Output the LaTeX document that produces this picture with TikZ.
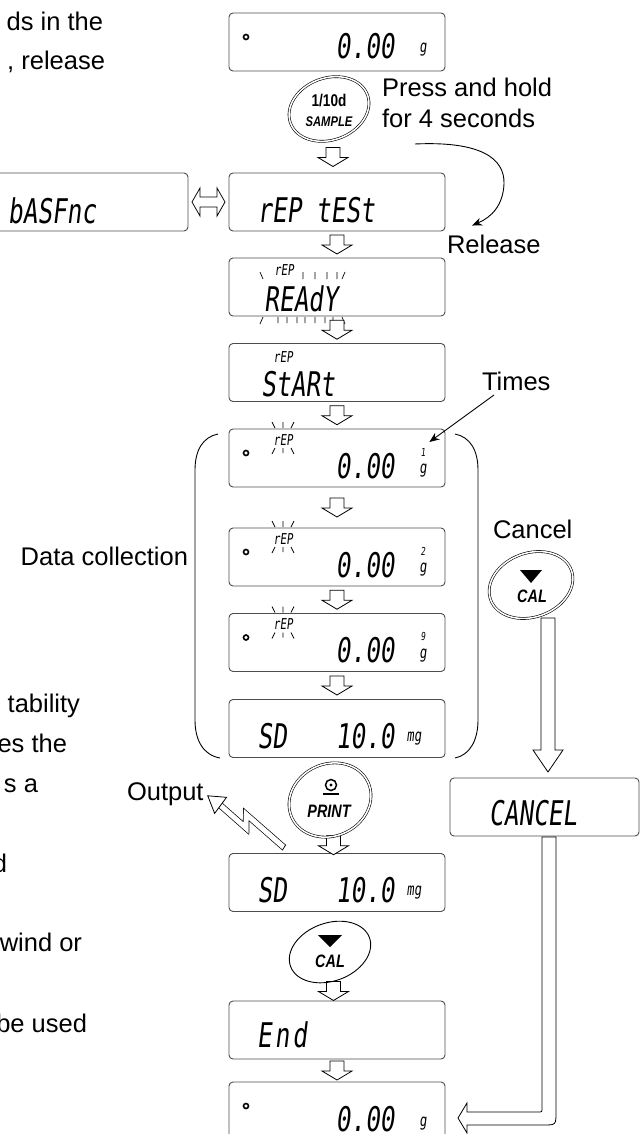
\documentclass[tikz,border=0pt]{standalone}
\usepackage{fontspec}
\setmainfont{Liberation Sans}
\newfontfamily\lcdfont[FakeSlant=0.12,FakeStretch=0.72]{DejaVu Sans Mono}
\newfontfamily\keyfont[FakeStretch=0.8]{Liberation Sans}
\usetikzlibrary{calc,arrows.meta,shapes.geometric}
\tikzset{
  hol/.style={draw,fill=white,line width=0.8pt,line join=miter},
  harrow/.pic={\path[hol] (-7,-9.5) -- (7,-9.5) -- (7,0.5) -- (15,0.5) -- (0,9.5) -- (-15,0.5) -- (-7,0.5) -- cycle;},
  rayset/.pic={\draw[line width=0.7pt] (-11,-18) -- (-8,-12) (0,-18) -- (0,-12) (11,-18) -- (8,-12)
      (-8,8) -- (-11,14) (0,8) -- (0,13) (8,8) -- (11,14);},
  readyrays/.pic={\draw[line width=0.7pt] (-77,-15) -- (-74,-8) (-34,-15) -- (-34,-8) (-22,-15) -- (-22,-8)
      (-10,-15) -- (-10,-8) (0,-15) -- (0,-8) (8,-15) -- (5,-8)
      (-74,30) -- (-77,37) (-59,30) -- (-59,36) (-50,30) -- (-50,36) (-40,30) -- (-40,36) (-32,30) -- (-32,36)
      (-22,30) -- (-22,36) (-12,30) -- (-12,36) (-4,30) -- (-4,36) (5,30) -- (8,37);}
}
\begin{document}
\begin{tikzpicture}[x=1pt,y=-1pt,
  every node/.style={inner sep=0pt,outer sep=0pt},
  lcd/.style={draw=black!70,line width=0.9pt,rounded corners=4pt,minimum width=216pt,minimum height=58pt},
  lcdbig/.style={font=\lcdfont\fontsize{34}{34}\selectfont},
  lcdsmall/.style={font=\lcdfont\fontsize{15}{15}\selectfont},
  lcdunit/.style={font=\lcdfont\fontsize{17}{17}\selectfont},
  lcdcnt/.style={font=\lcdfont\fontsize{11}{11}\selectfont},
  lbl/.style={font=\fontsize{25.5}{30}\selectfont},
  keyring/.style={draw,line width=0.6pt,double,double distance=1.5pt},
  keyplain/.style={draw,line width=0.9pt},
  keytxt/.style={font=\keyfont\bfseries\itshape\fontsize{18}{18}\selectfont},
  keybox/.style={ellipse},
  stand/.style={circle,draw,line width=1.6pt,minimum size=5pt},
  conn/.style={line width=0.9pt,-{Stealth[length=10pt,width=8pt]}}
]
\useasboundingbox (0,0) rectangle (641,1134);

% ---------- left text fragments ----------
\node[lbl,anchor=base east] (t1) at (103,31) {ds in the};
\node[lbl,anchor=base east] (t2) at (105,70) {, release};
\node[lbl,anchor=base east] (t3) at (80,712) {tability};
\node[lbl,anchor=base east] (t4) at (67,752) {es the};
\node[lbl,anchor=base east] (t5) at (38,792) {s a};
\node[lbl,anchor=base east] (t6) at (7,872) {d};
\node[lbl,anchor=base east] (t7) at (82,951) {wind or};
\node[lbl,anchor=base east] (t8) at (87,1032) {be used};

% ---------- labels ----------
\node[lbl,anchor=base west] (press) at (382,97) {Press and hold};
\node[lbl,anchor=base west] (four) at (382,128) {for 4 seconds};
\node[lbl,anchor=base west] (release) at (447,253) {Release};
\node[lbl,anchor=base west] (times) at (482,390) {Times};
\node[lbl,anchor=base west] (cancel) at (493,538) {Cancel};
\node[lbl,anchor=base east] (datac) at (188,565) {Data collection};
\node[lbl,anchor=base west] (output) at (127,800) {Output};

% ---------- display boxes ----------
\node[lcd] (d1) at (337,42) {};
\node[lcd,minimum width=220pt] (dbas) at (78,202) {};
\node[lcd] (drep) at (337,202) {};
\node[lcd] (dready) at (337,287) {};
\node[lcd] (dstart) at (337,372.5) {};
\node[lcd] (dr1) at (337,458) {};
\node[lcd] (dr2) at (337,557) {};
\node[lcd] (dr3) at (337,642.5) {};
\node[lcd] (dsd) at (337,728.5) {};
\node[lcd,minimum width=189pt] (dcan) at (544.5,807) {};
\node[lcd] (dsd2) at (337,882.5) {};
\node[lcd] (dend) at (337,1030) {};
\node[lcd] (dfin) at (337,1111) {};

% box contents
\node[stand] (o1) at (246,37) {};
\node[lcdbig] (v1) at (365,46) {0.00};
\node[lcdunit] (g1) at (423,50) {g};

\node[lcdbig] (tbas) at (52,211) {bASFnc};
\node[lcdbig] (trep) at (316,210) {rEP tESt};

\node[lcdsmall] (rp0) at (284,270) {rEP};
\node[lcdbig] (tready) at (301,299) {REAdY};
\pic at (dready.center) {readyrays};

\node[lcdsmall] (rps) at (283,357) {rEP};
\node[lcdbig] (tstart) at (298,384) {StARt};

\node[stand] (o2) at (246,453) {};
\node[lcdsmall] (rp1) at (283,440) {rEP};
\pic at (rp1.center) {rayset};
\node[lcdbig] (v2) at (365,466) {0.00};
\node[lcdunit] (g2) at (423,471) {g};
\node[lcdcnt] (c1) at (423,452) {1};

\node[stand] (o3) at (246,552) {};
\node[lcdsmall] (rp2) at (283,539) {rEP};
\pic at (rp2.center) {rayset};
\node[lcdbig] (v3) at (365,565) {0.00};
\node[lcdunit] (g3) at (423,570) {g};
\node[lcdcnt] (c2) at (423,551) {2};

\node[stand] (o4) at (246,637.5) {};
\node[lcdsmall] (rp3) at (283,624.5) {rEP};
\pic at (rp3.center) {rayset};
\node[lcdbig] (v4) at (365,650.5) {0.00};
\node[lcdunit] (g4) at (423,655.5) {g};
\node[lcdcnt] (c3) at (423,636.5) {9};

\node[lcdbig] (sd1) at (272,736) {SD};
\node[lcdbig] (v5) at (365,736) {10.0};
\node[lcdunit] (mg1) at (414,739) {mg};

\node[lcdbig] (tcan) at (533,813) {CANCEL};

\node[lcdbig] (sd2) at (272,890) {SD};
\node[lcdbig] (v6) at (365,890) {10.0};
\node[lcdunit] (mg2) at (414,893) {mg};

\node[lcdbig] (tend) at (282,1035) {E\kern3pt n\kern3pt d};

\node[stand] (o5) at (246,1106) {};
\node[lcdbig] (v7) at (365,1119) {0.00};
\node[lcdunit] (g5) at (423,1124) {g};

% ---------- keys ----------
\node[keybox,minimum width=84pt,minimum height=64pt] (bsam) at (329,109) {};
\draw[keyring,rotate around={20:(bsam.center)}] (bsam.center) ellipse [x radius=41pt,y radius=31pt];
\node[font=\keyfont\bfseries\fontsize{17}{17}\selectfont] (bsam1) at (329,101) {1/10d};
\node[font=\keyfont\bfseries\itshape\fontsize{14}{14}\selectfont] (bsam2) at (329,122) {SAMPLE};

\node[keybox,minimum width=88pt,minimum height=66pt] (bcan) at (531,585) {};
\node[keybox,minimum width=86pt,minimum height=74pt] (bpri) at (330,800) {};
\node[keybox,minimum width=84pt,minimum height=58pt] (bcal) at (330,952) {};

% ---------- hollow arrows ----------
\pic at ($(bsam.south)!.5!(drep.north)$) {harrow};
\pic at ($(drep.south)!.5!(dready.north)$) {harrow};
\pic at ($(dready.south)!.5!(dstart.north)$) {harrow};
\pic at ($(dstart.south)!.5!(dr1.north)$) {harrow};
\pic at ($(dr1.south)!.5!(dr2.north)$) {harrow};
\pic at ($(dr2.south)!.5!(dr3.north)$) {harrow};
\pic at ($(dr3.south)!.5!(dsd.north)$) {harrow};
\pic at ($(bpri.south)!.5!(dsd2.north)$) {harrow};
\pic at ($(bcal.south)!.5!(dend.north)$) {harrow};
\pic at ($(dend.south)!.5!(dfin.north)$) {harrow};

% double-headed hollow arrow between bASFnc and rEP tESt
\path[hol] let \p1=(dbas.east), \p2=(drep.west) in
  (\x1+4pt,\y1) -- (\x1+12pt,\y1+14pt) -- (\x1+12pt,\y1+5pt) -- (\x2-12pt,\y1+5pt) -- (\x2-12pt,\y1+14pt)
  -- (\x2-4pt,\y1) -- (\x2-12pt,\y1-14pt) -- (\x2-12pt,\y1-5pt) -- (\x1+12pt,\y1-5pt) -- (\x1+12pt,\y1-14pt) -- cycle;

% cancel key -> CANCEL box
\path[hol] let \p1=($(dcan.north)+(3.5,0)$), \p2=(bcan.south) in
  (\x1-7pt,\y2) -- (\x1+7pt,\y2) -- (\x1+7pt,\y1+28pt) -- (\x1+15pt,\y1+28pt) -- (\x1,\y1+6pt)
  -- (\x1-15pt,\y1+28pt) -- (\x1-7pt,\y1+28pt) -- cycle;

% CANCEL box -> final display
\path[hol] let \p1=($(dcan.south)+(4.5,1)$), \p2=($(dfin.east)+(13,7)$) in
  (\x1-7pt,\y1) -- (\x1+7pt,\y1) -- (\x1+7pt,\y2+6pt) .. controls (\x1+7pt,\y2-7pt) .. (\x1-6pt,\y2-7pt)
  -- (\x2+9pt,\y2-7pt) -- (\x2+9pt,\y2-15pt) -- (\x2,\y2) -- (\x2+9pt,\y2+15pt) -- (\x2+9pt,\y2+6pt)
  -- (\x1-11pt,\y2+6pt) .. controls (\x1-7pt,\y2+6pt) .. (\x1-7pt,\y2+10pt) -- cycle;

% key outlines and faces (drawn over the arrows)
\draw[keyring,rotate around={20:(bcan.center)}] (bcan.center) ellipse [x radius=43pt,y radius=32pt];
\fill ($(bcan.center)+(-11,-15)$) -- ($(bcan.center)+(11,-15)$) -- ($(bcan.center)+(0,-2)$) -- cycle;
\node[keytxt] (bcantxt) at ($(bcan.center)+(1,11)$) {CAL};

\draw[keyring,rotate around={25:(bpri.center)}] (bpri.center) ellipse [x radius=42pt,y radius=36pt];
\draw[line width=1.5pt] ($(bpri.center)+(1,-15)$) circle [radius=5.5pt];
\fill ($(bpri.center)+(1,-15)$) circle [radius=1.6pt];
\draw[line width=1.3pt] ($(bpri.center)+(-7,-6)$) -- ($(bpri.center)+(9,-6)$);
\node[keytxt] (bpritxt) at ($(bpri.center)+(-1,11)$) {PRINT};

\draw[keyplain,rotate around={20:(bcal.center)}] (bcal.center) ellipse [x radius=42pt,y radius=29pt];
\fill ($(bcal.center)+(-12,-17)$) -- ($(bcal.center)+(12,-17)$) -- ($(bcal.center)+(0,-5)$) -- cycle;
\node[keytxt] (bcaltxt) at ($(bcal.center)+(0,9)$) {CAL};

% ---------- bracket ----------
\draw[line width=0.9pt] (218,434) .. controls (203,437) and (195,450) .. (195,470) -- (195,720)
  .. controls (195,740) and (203,755) .. (220,758);
\draw[line width=0.9pt] (455,434) .. controls (470,437) and (478,450) .. (478,470) -- (478,720)
  .. controls (478,740) and (470,755) .. (455,758);

% ---------- line arrows ----------
\draw[conn] ($(four.base west)+(33,16)$) .. controls (480,141) and (505,158) .. (504,184)
  .. controls (503,205) and (492,217) .. ($(release.north west)+(25,-9)$);
\draw[conn] ($(times.base west)+(12,5)$) -- ($(c1.north east)+(4,-6)$);

% ---------- output lightning ----------
\coordinate (ltail) at ($(dsd2.north west)+(55,-6)$);
\coordinate (ltip) at ($(output.base east)+(6,-8)$);
\begin{scope}[shift={(ltail)},x={(-0.803pt,0.597pt)},y={(0.597pt,0.803pt)}]
  \draw[line width=0.7pt,double,double distance=5pt,line join=miter] (0,0) -- (50,4) -- (42,-7) -- (78,-4);
  \draw[line width=0.7pt] (-0.3,-3.3) -- (0.3,3.3);
  \path[hol] (76,-14) -- (92,-4) -- (76,6) -- cycle;
\end{scope}
\end{tikzpicture}
\end{document}
